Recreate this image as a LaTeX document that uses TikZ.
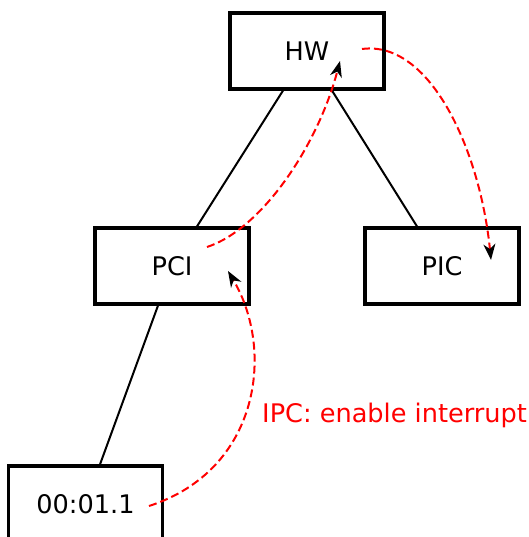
\documentclass[tikz,border=0pt]{standalone}
\usepackage{fontspec}
\setmainfont{DejaVu Sans}
\usetikzlibrary{arrows.meta}
\begin{document}
\begin{tikzpicture}[x=1pt,y=1pt,
  box/.style={draw=black,line width=3.2pt,minimum width=154pt,minimum height=76pt,inner sep=0pt,
    font=\fontsize{25.6}{30}\selectfont},
  link/.style={line width=2pt,black},
  ipc/.style={red,line width=2pt,dash pattern=on 8pt off 4pt,
    -{Stealth[black,length=16pt,width=12pt,inset=5pt]}},
  lbl/.style={red,font=\fontsize{25.6}{30}\selectfont,inner sep=0pt,anchor=base west}]
\useasboundingbox (0,0) rectangle (528,-537);
\node[box] (hw) at (307,-51) {HW};
\node[box] (pci) at (172,-266) {PCI};
\node[box] (pic) at (442,-266) {PIC};
\node[box] (dev) at (85.5,-504) {00:01.1};
\draw[link] ([xshift=-24pt]hw.south) -- ([xshift=25pt]pci.north);
\draw[link] ([xshift=25pt]hw.south) -- ([xshift=-25pt]pic.north);
\draw[link] ([xshift=-14pt]pci.south) -- ([xshift=14.5pt]dev.north);
\draw[ipc] ([shift={(55,2)}]hw.center) .. controls +(68,9) and +(-11,110) .. ([shift={(49,6)}]pic.center);
\draw[ipc] ([shift={(35,19)}]pci.center) .. controls +(55,18) and +(-22,-84) .. ([shift={(33,-10)}]hw.center);
\draw[ipc] ([shift={(63.5,-2)}]dev.center) .. controls +(111,36) and +(47,-79) .. ([shift={(56,-5)}]pci.center);
\node[lbl] (ipclbl) at (262,-422) {IPC: enable interrupt};
\end{tikzpicture}
\end{document}
